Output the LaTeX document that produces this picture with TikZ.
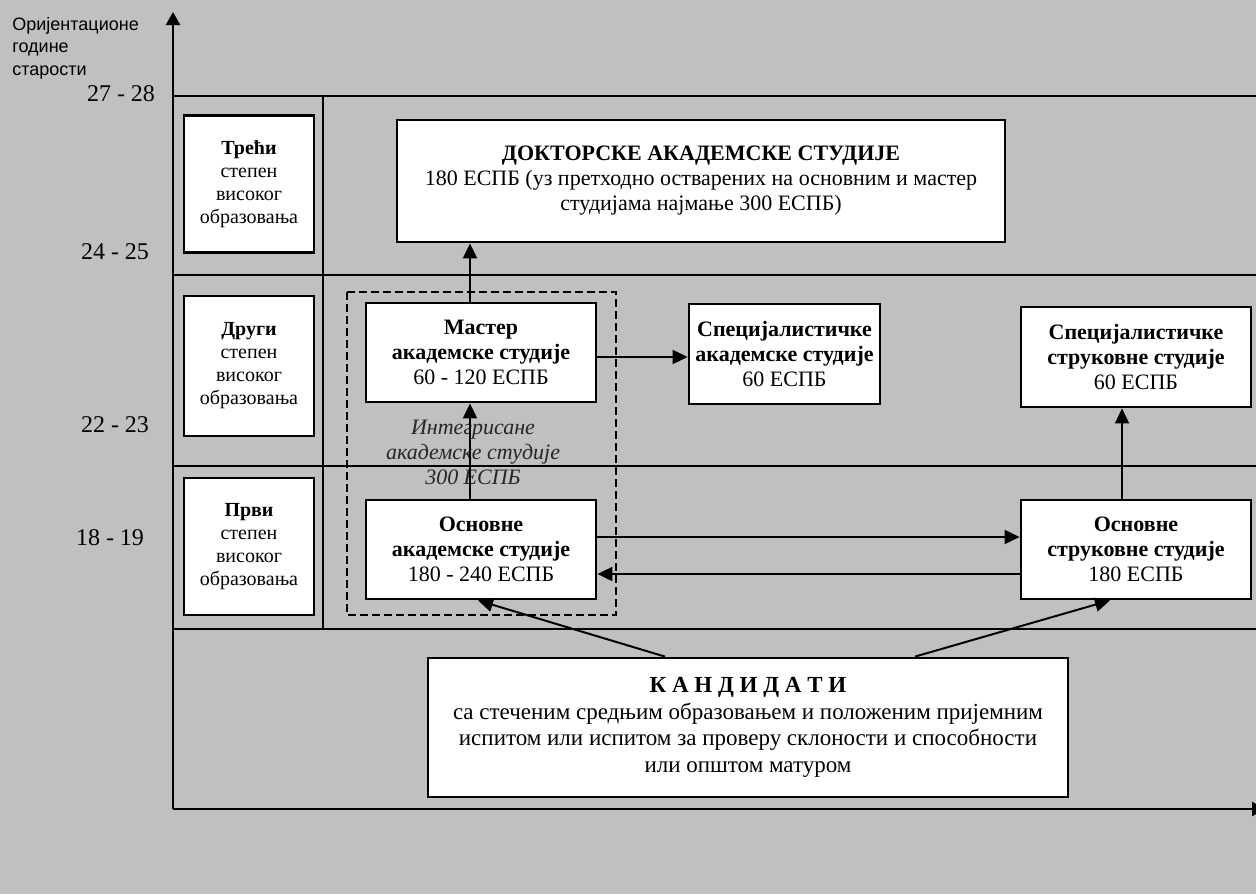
\documentclass[tikz,border=0pt]{standalone}
\usepackage{fontspec}
\setmainfont{Liberation Serif}
\newfontfamily\arialf{Liberation Sans}
\usetikzlibrary{arrows.meta}
\definecolor{bggrey}{HTML}{C0C0C0}
\begin{document}
\begin{tikzpicture}[x=0.5pt,y=-0.5pt,
  box/.style={draw, line width=1.4pt, fill=white, inner sep=0pt, align=center,
              font=\fontsize{11}{12.5}\selectfont},
  lvl/.style={box, minimum width=65pt, minimum height=68.5pt,
              font=\fontsize{10}{11.5}\selectfont},
  age/.style={inner sep=0pt, font=\fontsize{12}{14}\selectfont},
  arr/.style={-{Triangle[length=7.5pt,width=7pt]}, line width=1pt},
  gridline/.style={line width=1pt},
  axis/.style={line width=1.2pt, -{Triangle[length=6.5pt,width=7pt]}},
  dashbox/.style={line width=0.9pt, dash pattern=on 4pt off 2pt}]

\fill[bggrey] (0,0) rectangle (1256,894);
\useasboundingbox (0,0) rectangle (1256,894);

% grid
\draw[gridline] (173,96) -- (1256,96);
\draw[gridline] (173,275) -- (1256,275);
\draw[gridline] (173,466) -- (1256,466);
\draw[gridline] (173,629) -- (1256,629);
\draw[gridline] (323,96) -- (323,629);

% axes
\coordinate (origin) at (173,809);
\coordinate (ytip) at (173,12);
\coordinate (xtip) at (1265,809);
\draw[axis] (origin) -- (ytip);
\draw[axis] (origin) -- (xtip);

% axis label
\node[anchor=north west, inner sep=0pt, align=left,
      font=\arialf\fontsize{9}{11.25}\selectfont] (ylabel) at (12,17)
  {Оријентационе\\године\\старости};

% ages
\node[age] (a1) at (121,94) {27 - 28};
\node[age] (a2) at (115,252) {24 - 25};
\node[age] (a3) at (115,425) {22 - 23};
\node[age] (a4) at (110,538) {18 - 19};

% level boxes
\node[lvl] (treci) at (249,184) {\textbf{Трећи}\\степен\\високог\\образовања};
\node[lvl, minimum height=70pt] (drugi) at (249,366) {\textbf{Други}\\степен\\високог\\образовања};
\node[lvl] (prvi) at (249,546.5) {\textbf{Први}\\степен\\високог\\образовања};

% dashed integrated box
\draw[dashbox] (347,292) rectangle (616,615);

% main boxes
\node[box, minimum width=304pt, minimum height=61pt] (doc) at (701,181)
  {\textbf{ДОКТОРСКЕ АКАДЕМСКЕ СТУДИЈЕ}\\180 ЕСПБ (уз претходно остварених на основним и мастер\\студијама најмање 300 ЕСПБ)};
\node[box, minimum width=115pt, minimum height=49.5pt] (master) at (481,352.5)
  {\textbf{Мастер}\\\textbf{академске студије}\\60 - 120 ЕСПБ};
\node[box, minimum width=115pt, minimum height=49.5pt] (osnak) at (481,549.5)
  {\textbf{Основне}\\\textbf{академске студије}\\180 - 240 ЕСПБ};
\node[box, minimum width=95.5pt, minimum height=50pt] (specak) at (784.5,354)
  {\textbf{Специјалистичке}\\\textbf{академске студије}\\60 ЕСПБ};
\node[box, minimum width=115pt, minimum height=50pt] (specstr) at (1136,357)
  {\textbf{Специјалистичке}\\\textbf{струковне студије}\\60 ЕСПБ};
\node[box, minimum width=115pt, minimum height=49.5pt] (osnstr) at (1136,549.5)
  {\textbf{Основне}\\\textbf{струковне студије}\\180 ЕСПБ};
\node[box, minimum width=320pt, minimum height=69.5pt,
      font=\fontsize{11.5}{13.3}\selectfont] (kand) at (748,727.5)
  {\textbf{К А Н Д И Д А Т И}\\са стеченим средњим образовањем и положеним пријемним\\испитом или испитом за проверу склоности и способности\\или општом матуром};

% integrated label
\node[inner sep=0pt, align=center, font=\itshape\fontsize{11}{12.5}\selectfont,
      text=black!85] (integ) at (473,452)
  {Интегрисане\\академске студије\\300 ЕСПБ};

% helper coordinates
\coordinate (xa) at (470,0);
\coordinate (xs) at (1122,0);
\coordinate (k1) at (665,0);
\coordinate (k2) at (915,0);
\coordinate (t1) at (478,0);
\coordinate (t2) at (1110,0);
\coordinate (ym) at (0,357);
\coordinate (yr) at (0,537);
\coordinate (yl) at (0,574);

% connectors
\draw[arr] (osnak.north -| xa) -- (master.south -| xa);
\draw[arr] (master.north -| xa) -- (doc.south -| xa);
\draw[arr] (master.east |- ym) -- (specak.west |- ym);
\draw[arr] (osnak.east |- yr) -- (osnstr.west |- yr);
\draw[arr] (osnstr.west |- yl) -- (osnak.east |- yl);
\draw[arr] (osnstr.north -| xs) -- (specstr.south -| xs);
\draw[arr] (kand.north -| k1) -- (osnak.south -| t1);
\draw[arr] (kand.north -| k2) -- (osnstr.south -| t2);
\end{tikzpicture}
\end{document}
